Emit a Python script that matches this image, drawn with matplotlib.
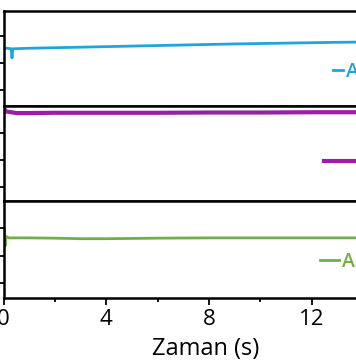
import matplotlib

matplotlib.use("Agg")
import matplotlib.pyplot as plt

plt.rcParams["font.family"] = ["Open Sans", "DejaVu Sans"]

# time axis (s) and the three traces
cyan_t = [0.0, 0.05, 0.3, 0.33, 0.36, 0.4, 1, 3, 5, 7, 9, 11, 13, 15, 16]
cyan_v = [1.45, 1.55, 1.52, 1.18, 1.52, 1.52, 1.54, 1.58, 1.62, 1.66, 1.70, 1.73, 1.76, 1.78, 1.79]

purple_t = [0.0, 0.1, 0.5, 1, 2, 4, 6, 8, 10, 12, 14, 16]
purple_v = [2.93, 2.80, 2.74, 2.74, 2.75, 2.75, 2.75, 2.76, 2.76, 2.77, 2.77, 2.77]

green_t = [0.0, 0.03, 0.06, 0.1, 0.2, 1, 2, 3, 4, 5, 6, 8, 10, 12, 14, 16]
green_v = [1.65, 2.00, 1.35, 1.70, 1.65, 1.65, 1.64, 1.62, 1.62, 1.63, 1.64, 1.65, 1.65, 1.65, 1.65, 1.65]

labels = ["A1", "A2", "A3"]
colors = ["#1ea6da", "#9b1fa6", "#72ae48"]
xticks = [0, 4, 8, 12]
minor_xticks = [2, 6, 10]

W, H = 356, 364
fig = plt.figure(figsize=(W / 100, H / 100), dpi=100)

left = 3.5 / W
width = (15.7 * 25.7) / W
panels = [(11, 106), (106, 201), (201, 298)]  # top/bottom in pixels
ylims = [(-0.6, 2.92), (-0.5, 3.0), (-0.55, 3.0)]
series = [(cyan_t, cyan_v, 2.0), (purple_t, purple_v, 3.0), (green_t, green_v, 2.0)]
legend_pos = [(333, 72, 0.5), (324, 163, 1.8), (320, 262, 1.0)]

axes = []
for i, ((top, bot), yl, (t, v, lw), (lx, ly, hl)) in enumerate(
    zip(panels, ylims, series, legend_pos)
):
    ax = fig.add_axes([left, 1 - bot / H, width, (bot - top) / H])
    ax.plot(t, v, color=colors[i], lw=lw, label=labels[i])
    ax.set_xlim(0, 15.7)
    ax.set_ylim(*yl)
    ax.set_yticks([0, 1, 2])
    ax.tick_params(axis="y", direction="out", length=4, width=1.3, labelleft=False)
    for s in ax.spines.values():
        s.set_linewidth(1.8)
    ax.legend(
        loc="center left",
        bbox_to_anchor=(lx / W, 1 - ly / H),
        bbox_transform=fig.transFigure,
        frameon=False,
        borderpad=0,
        borderaxespad=0,
        handlelength=hl,
        handletextpad=0.15,
        prop={"size": 14, "weight": "semibold"},
        labelcolor=colors[i],
    )
    if i < 2:
        ax.tick_params(axis="x", bottom=False, labelbottom=False)
    else:
        ax.set_xticks(xticks)
        ax.set_xticks(minor_xticks, minor=True)
        ax.tick_params(axis="x", which="major", direction="out", length=5, width=1.3,
                       labelsize=16, pad=3)
        ax.tick_params(axis="x", which="minor", direction="out", length=3, width=1.3)
        ax.set_xlabel("Zaman (s)", fontsize=17, labelpad=5)
    axes.append(ax)

fig.savefig("out.png", dpi=100)
